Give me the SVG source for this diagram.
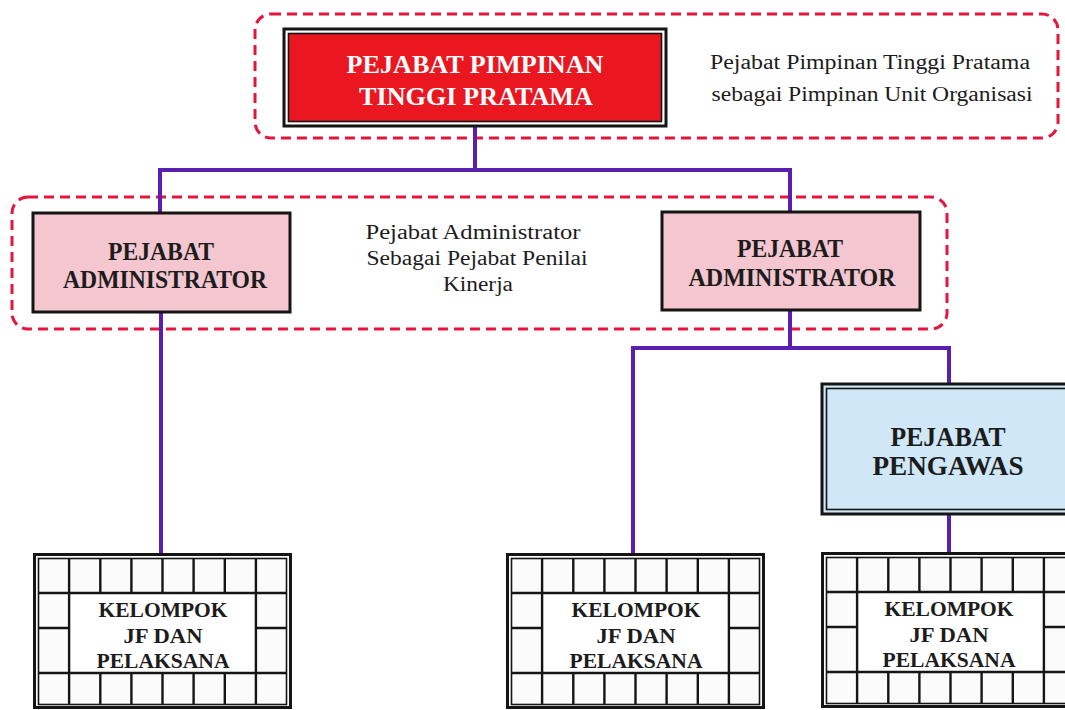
<svg xmlns="http://www.w3.org/2000/svg" xmlns:xlink="http://www.w3.org/1999/xlink" width="1065" height="710" viewBox="0 0 1065 710">
<style>
.dash{fill:none;stroke:#e3173d;stroke-width:3;stroke-dasharray:10 6}
.conn{fill:none;stroke:#5a1fae;stroke-width:4;stroke-linecap:square}
.ser{font-family:"Liberation Serif","Times New Roman",serif;text-anchor:middle}
.bold{font-weight:bold;fill:#1c1c1c}
.note{font-size:20px;fill:#1c1c1c}
.ob{stroke:#151515;stroke-width:3}
.ib{stroke:#151515;stroke-width:1.6}
.nofill{fill:none}
.pink{fill:#f4c6cf}
.blue{fill:#cfe7f6}
.red{fill:#ea1620}
.white{fill:#ffffff}
.cell{fill:#fbfbfb}
.grid{stroke:#151515;stroke-width:2.4;fill:none}
</style>
<defs>
<g id="kgrid">
<rect x="1.5" y="1.5" width="256" height="153" class="ob cell"/>
<rect x="5.5" y="5.5" width="248" height="146" class="ib nofill"/>
<rect x="36.1" y="40" width="186.8" height="80" class="white"/>
<path class="grid" d="M5.5 40H253.5M5.5 120H253.5M36.1 5.5V151.5M222.9 5.5V151.5M67.3 5.5V40M98.4 5.5V40M129.5 5.5V40M160.6 5.5V40M191.8 5.5V40M67.3 120V151.5M98.4 120V151.5M129.5 120V151.5M160.6 120V151.5M191.8 120V151.5M5.5 75H36.1M222.9 75H253.5"/>
</g>
</defs>
<rect width="1065" height="710" fill="#ffffff"/>

<g id="groups">
<rect class="dash" x="255" y="14" width="803" height="124" rx="16"/>
<rect class="dash" x="12" y="197" width="935" height="132" rx="16"/>
</g>

<g id="connectors">
<path class="conn" d="M475 127V170M160 170H790M160 170V213M790 170V212"/>
<path class="conn" d="M161 312V553"/>
<path class="conn" d="M790 310V348M633 348H949M633 348V553M949 348V383"/>
<path class="conn" d="M949 515V552"/>
</g>

<g id="pimpinan">
<rect x="284" y="29" width="382" height="97" class="ob white"/>
<rect x="288.5" y="33.5" width="373" height="88" class="ib red"/>
<text class="ser" x="475" y="73" font-size="25" font-weight="bold" fill="#ffffff" textLength="257" lengthAdjust="spacingAndGlyphs">PEJABAT PIMPINAN</text>
<text class="ser" x="476" y="105" font-size="25" font-weight="bold" fill="#ffffff" textLength="234" lengthAdjust="spacingAndGlyphs">TINGGI PRATAMA</text>
</g>

<g id="note-pimpinan">
<text class="ser note" x="870" y="69" textLength="320" lengthAdjust="spacingAndGlyphs">Pejabat Pimpinan Tinggi Pratama</text>
<text class="ser note" x="872" y="101" textLength="321" lengthAdjust="spacingAndGlyphs">sebagai Pimpinan Unit Organisasi</text>
</g>

<g id="admin-left">
<rect x="33" y="213" width="257" height="99" class="ob pink"/>
<text class="ser bold" x="161" y="260" font-size="25" textLength="106" lengthAdjust="spacingAndGlyphs">PEJABAT</text>
<text class="ser bold" x="165" y="288" font-size="25" textLength="204" lengthAdjust="spacingAndGlyphs">ADMINISTRATOR</text>
</g>

<g id="note-admin">
<text class="ser note" x="473" y="239" textLength="215" lengthAdjust="spacingAndGlyphs">Pejabat Administrator</text>
<text class="ser note" x="477" y="265" textLength="221" lengthAdjust="spacingAndGlyphs">Sebagai Pejabat Penilai</text>
<text class="ser note" x="478" y="291" textLength="70" lengthAdjust="spacingAndGlyphs">Kinerja</text>
</g>

<g id="admin-right">
<rect x="662" y="212" width="258" height="98" class="ob pink"/>
<text class="ser bold" x="790" y="257" font-size="25" textLength="106" lengthAdjust="spacingAndGlyphs">PEJABAT</text>
<text class="ser bold" x="792" y="286" font-size="25" textLength="207" lengthAdjust="spacingAndGlyphs">ADMINISTRATOR</text>
</g>

<g id="pengawas">
<rect x="822" y="384" width="280" height="130" class="ob blue"/>
<rect x="826.5" y="388.5" width="270" height="121" class="ib nofill"/>
<text class="ser bold" x="948" y="446" font-size="28" textLength="115" lengthAdjust="spacingAndGlyphs">PEJABAT</text>
<text class="ser bold" x="948" y="475" font-size="28" textLength="151" lengthAdjust="spacingAndGlyphs">PENGAWAS</text>
</g>

<g id="kelompok-left" transform="translate(33 553)">
<use xlink:href="#kgrid" href="#kgrid"/>
<text class="ser bold" x="130" y="64" font-size="22" textLength="129" lengthAdjust="spacingAndGlyphs">KELOMPOK</text>
<text class="ser bold" x="130" y="90" font-size="22" textLength="79" lengthAdjust="spacingAndGlyphs">JF DAN</text>
<text class="ser bold" x="130" y="115" font-size="22" textLength="133" lengthAdjust="spacingAndGlyphs">PELAKSANA</text>
</g>

<g id="kelompok-mid" transform="translate(506 553)">
<use xlink:href="#kgrid" href="#kgrid"/>
<text class="ser bold" x="130" y="64" font-size="22" textLength="129" lengthAdjust="spacingAndGlyphs">KELOMPOK</text>
<text class="ser bold" x="130" y="90" font-size="22" textLength="79" lengthAdjust="spacingAndGlyphs">JF DAN</text>
<text class="ser bold" x="130" y="115" font-size="22" textLength="133" lengthAdjust="spacingAndGlyphs">PELAKSANA</text>
</g>

<g id="kelompok-right" transform="translate(821 552)">
<use xlink:href="#kgrid" href="#kgrid"/>
<text class="ser bold" x="128" y="64" font-size="22" textLength="129" lengthAdjust="spacingAndGlyphs">KELOMPOK</text>
<text class="ser bold" x="128" y="90" font-size="22" textLength="79" lengthAdjust="spacingAndGlyphs">JF DAN</text>
<text class="ser bold" x="128" y="115" font-size="22" textLength="133" lengthAdjust="spacingAndGlyphs">PELAKSANA</text>
</g>
</svg>
